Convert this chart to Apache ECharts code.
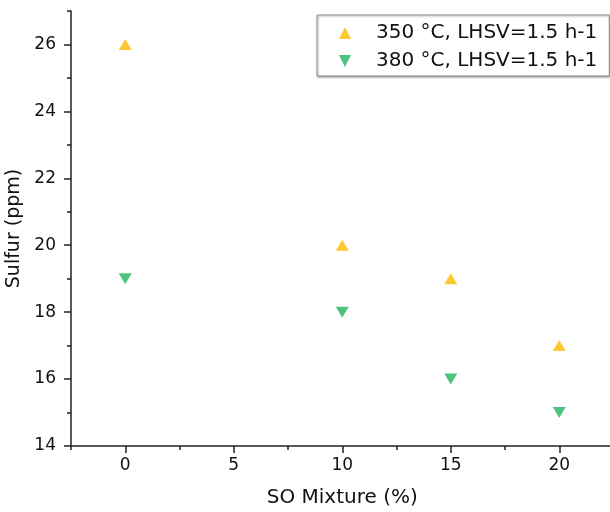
<!DOCTYPE html>
<html>
<head>
<meta charset="utf-8">
<script src="https://cdn.jsdelivr.net/npm/echarts@6/dist/echarts.min.js"></script>
<style>html,body{margin:0;padding:0;background:#fff}#c{width:610px;height:512px}</style>
</head>
<body>
<div id="c"></div>
<script>
var seriesNames = ['350 °C, LHSV=1.5 h-1', '380 °C, LHSV=1.5 h-1'];
var soMixture = [0, 10, 15, 20];
var sulfur350 = [26, 20, 19, 17];
var sulfur380 = [19, 18, 16, 15];
var xMajorTicks = [0, 5, 10, 15, 20];
var xMinorTicks = [-2.5, 2.5, 7.5, 12.5, 17.5, 22.5];
var yMajorTicks = [14, 16, 18, 20, 22, 24, 26];
var yMinorTicks = [15, 17, 19, 21, 23, 25, 27];

var FONT = 'DejaVu Sans';
var AX = '#222';
var C1 = '#FDBA00', C2 = '#22B45E';
function pairs(xs, ys) { return xs.map(function (x, i) { return [x, ys[i]]; }); }

var chart = echarts.init(document.getElementById('c'), null, { renderer: 'canvas' });
chart.setOption({
  animation: false,
  backgroundColor: '#fff',
  grid: { left: 71, width: 542.5, top: 11, bottom: 66, containLabel: false, outerBoundsMode: 'none' },
  legend: {
    orient: 'vertical', left: 317, top: 15,
    padding: [8, 12, 5, 22],
    itemGap: 8, itemWidth: 14, itemHeight: 12,
    borderColor: '#8a8a8a', borderWidth: 1, backgroundColor: '#fff',
    shadowColor: 'rgba(0,0,0,0.35)', shadowBlur: 2, shadowOffsetX: 1, shadowOffsetY: 1,
    textStyle: { fontFamily: FONT, fontSize: 20, color: '#111', lineHeight: 20, padding: [0, 0, 0, 19] },
    data: [
      { name: seriesNames[0], icon: 'path://M1,0 L2,2 L0,2 Z', itemStyle: { color: C1 } },
      { name: seriesNames[1], icon: 'path://M0,0 L2,0 L1,2 Z', itemStyle: { color: C2 } }
    ]
  },
  xAxis: [
    {
      type: 'value', min: -2.5, max: 22.5, position: 'bottom',
      name: 'SO Mixture (%)', nameLocation: 'middle', nameGap: 42,
      nameTextStyle: { fontFamily: FONT, fontSize: 20, color: '#111' },
      axisLine: { show: true, onZero: false, lineStyle: { color: AX, width: 1.5 } },
      axisTick: { show: true, inside: false, length: 7, lineStyle: { color: AX, width: 1.5 }, customValues: xMajorTicks },
      axisLabel: { fontFamily: FONT, fontSize: 17, color: '#111', margin: 11, customValues: xMajorTicks },
      splitLine: { show: false }
    },
    {
      type: 'value', min: -2.5, max: 22.5, position: 'bottom',
      axisLine: { show: false, onZero: false },
      axisTick: { show: true, inside: false, length: 4, lineStyle: { color: AX, width: 1.5 }, customValues: xMinorTicks },
      axisLabel: { show: false },
      splitLine: { show: false }
    }
  ],
  yAxis: [
    {
      type: 'value', min: 14, max: 27, position: 'left',
      name: 'Sulfur (ppm)', nameLocation: 'middle', nameGap: 43,
      nameTextStyle: { fontFamily: FONT, fontSize: 19, color: '#111' },
      axisLine: { show: true, onZero: false, lineStyle: { color: AX, width: 1.5 } },
      axisTick: { show: true, inside: false, length: 7, lineStyle: { color: AX, width: 1.5 }, customValues: yMajorTicks },
      axisLabel: { fontFamily: FONT, fontSize: 17, color: '#111', margin: 15, customValues: yMajorTicks },
      splitLine: { show: false }
    },
    {
      type: 'value', min: 14, max: 27, position: 'left',
      axisLine: { show: false, onZero: false },
      axisTick: { show: true, inside: false, length: 4, lineStyle: { color: AX, width: 1.5 }, customValues: yMinorTicks },
      axisLabel: { show: false },
      splitLine: { show: false }
    }
  ],
  series: [
    {
      name: seriesNames[0], type: 'scatter', xAxisIndex: 0, yAxisIndex: 0,
      symbol: 'triangle', symbolSize: [13, 11],
      itemStyle: { color: C1 },
      data: pairs(soMixture, sulfur350)
    },
    {
      name: seriesNames[1], type: 'scatter', xAxisIndex: 0, yAxisIndex: 0,
      symbol: 'triangle', symbolSize: [13, 11], symbolRotate: 180,
      itemStyle: { color: C2 },
      data: pairs(soMixture, sulfur380)
    }
  ]
});
</script>
</body>
</html>
